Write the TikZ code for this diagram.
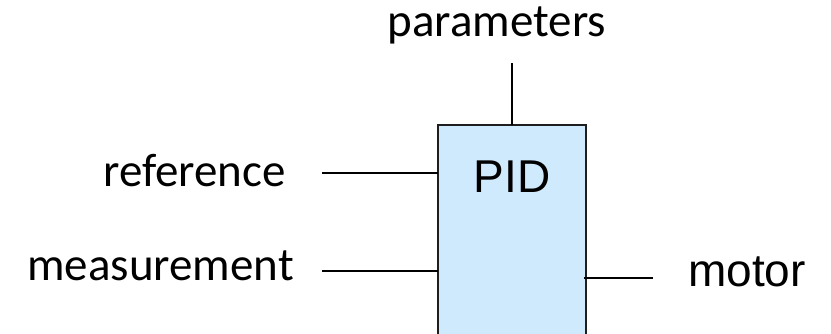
\documentclass[tikz,border=0pt]{standalone}
\usepackage{fontspec}
\setmainfont{Carlito}
\newfontfamily\arialfont{Liberation Sans}
\definecolor{boxfill}{RGB}{207,233,253}
\definecolor{boxline}{RGB}{30,30,30}
\begin{document}
\begin{tikzpicture}[x=1pt,y=-1pt,
  lbl/.style={inner sep=0pt,font=\fontsize{47}{50}\selectfont},
  albl/.style={inner sep=0pt,font=\arialfont\fontsize{46}{50}\selectfont},
  wire/.style={line width=2.3pt,black}]
\useasboundingbox (0,0) rectangle (831,334);
\clip (0,0) rectangle (831,334);
% controller block (runs off the lower edge)
\draw[fill=boxfill,draw=boxline,line width=2.6pt] (438,125) rectangle (586,340);
\node[albl,anchor=base] (pid) at (512,193) {PID};
\coordinate (pidtop) at (512,125);
\coordinate (refin) at (438,173);
\coordinate (measin) at (438,271);
\coordinate (motout) at (584,278);
% labels
\node[lbl,anchor=base] (params) at (497,37) {parameters};
\node[lbl,anchor=base east] (ref) at (286,187) {reference};
\node[lbl,anchor=base east] (meas) at (294,280) {measurement};
\node[albl,anchor=base west] (motor) at (688,287) {motor};
% wires
\coordinate (paramsend) at (512,63);
\coordinate (refend) at (322,173);
\coordinate (measend) at (322,271);
\coordinate (motend) at (653,278);
\draw[wire] (paramsend) -- (pidtop);
\draw[wire] (refend) -- (refin);
\draw[wire] (measend) -- (measin);
\draw[wire] (motout) -- (motend);
\end{tikzpicture}
\end{document}
